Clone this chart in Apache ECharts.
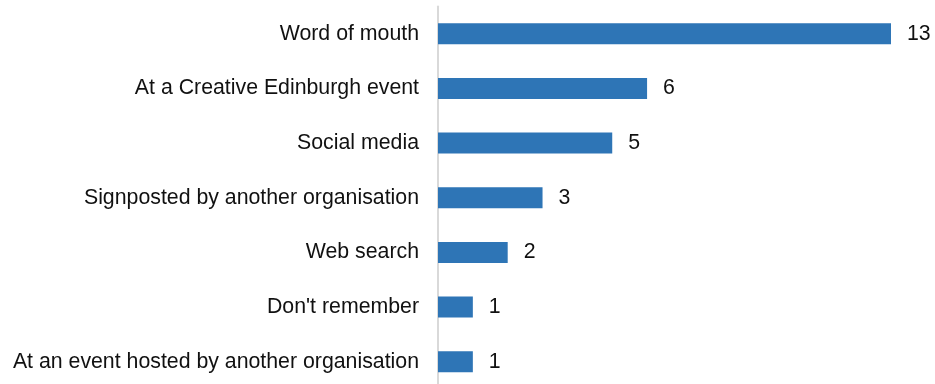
<!DOCTYPE html>
<html>
<head>
<meta charset="utf-8">
<script src="https://cdn.jsdelivr.net/npm/echarts@6/dist/echarts.min.js"></script>
<style>
  html, body { margin: 0; padding: 0; background: #ffffff; }
  #chart { width: 935px; height: 384px; }
</style>
</head>
<body>
<div id="chart"></div>
<script>
// How respondents heard about the programme (listed top to bottom)
const categories = [
  "Word of mouth",
  "At a Creative Edinburgh event",
  "Social media",
  "Signposted by another organisation",
  "Web search",
  "Don't remember",
  "At an event hosted by another organisation"
];
const counts = [13, 6, 5, 3, 2, 1, 1];

const chart = echarts.init(document.getElementById('chart'), null, { renderer: 'canvas' });

chart.setOption({
  animation: false,
  backgroundColor: '#ffffff',
  grid: {
    left: 438, top: 6.5, width: 453, height: 382.5,
    containLabel: false,
    outerBoundsMode: 'none'
  },
  xAxis: {
    type: 'value',
    min: 0,
    max: 13,
    show: false
  },
  yAxis: {
    type: 'category',
    inverse: true,
    data: categories,
    axisLine: { show: true, lineStyle: { color: '#d9d9d9', width: 2 } },
    axisTick: { show: false },
    axisLabel: {
      margin: 19,
      color: '#111111',
      fontFamily: 'Liberation Sans, Arial, sans-serif',
      fontSize: 21.3
    }
  },
  series: [{
    type: 'bar',
    data: counts,
    barWidth: 21,
    itemStyle: { color: '#2E75B6' },
    label: {
      show: true,
      position: 'right',
      distance: 16,
      color: '#111111',
      fontFamily: 'Liberation Sans, Arial, sans-serif',
      fontSize: 21.3
    }
  }]
});
</script>
</body>
</html>
